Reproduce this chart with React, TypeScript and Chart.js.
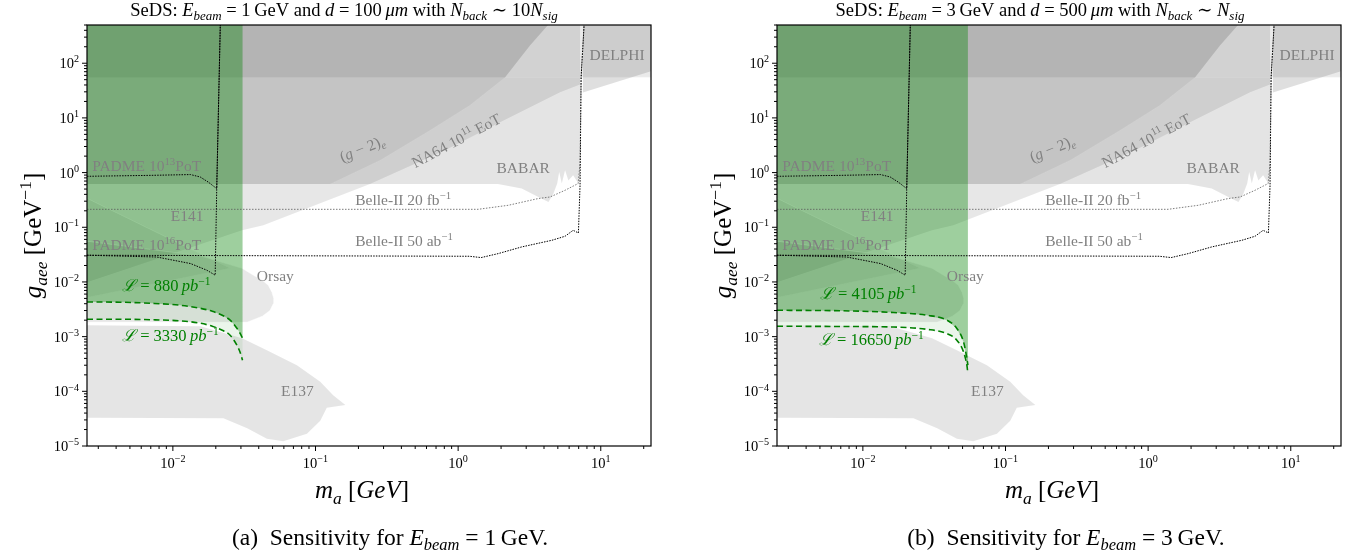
import React, { useEffect, useRef } from 'react';
import { Chart, registerables } from 'chart.js';

Chart.register(...registerables);

// ---------- axis limits & ticks ----------
const X_MIN = 0.0025;
const X_MAX = 22.5;
const Y_MIN = 1e-5;
const Y_MAX = 500;
const xTickExps = [-2, -1, 0, 1];
const yTickExps = [-5, -4, -3, -2, -1, 0, 1, 2];

// ---------- existing limits (outlines, data units) ----------
const delphiBandX = [0.002, 30, 30, 0.002];
const delphiBandY = [55, 55, 1000, 1000];
const delphiX = [7.5, 7.5, 30, 30];
const delphiY = [1000, 29, 90, 1000];
const g2eX = [0.002, 0.127, 0.284, 0.637, 1.21, 2.13, 3.19, 4.27, 4.5, 0.002];
const g2eY = [0.62, 0.62, 1.68, 5.94, 17, 55, 212, 500, 1000, 1000];
const babarX = [0.002, 1.9, 2.79, 3.65, 4.3, 4.65, 4.95, 5.11, 5.33, 5.62, 5.93, 6.4, 6.97, 7.16, 7.16, 0.002];
const babarY = [0.62, 0.62, 0.51, 0.358, 0.29, 0.41, 0.63, 1.03, 0.63, 1.1, 0.72, 0.89, 0.63, 0.7, 1000, 1000];
const na64X = [0.002, 0.0306, 0.0431, 0.241, 0.811, 1.97, 5.19, 7.16, 7.16, 2.13, 1.21, 0.637, 0.284, 0.127, 0.002];
const na64Y = [0.0081, 0.0881, 0.109, 0.62, 2.56, 8.3, 29.4, 41, 55, 55, 17, 5.94, 1.68, 0.62, 0.62];
const e141X = [0.002, 0.0252, 0.002];
const e141Y = [0.45, 0.0178, 0.0046];
const orsayX = [0.002, 0.0332, 0.0424, 0.048, 0.0506, 0.051, 0.0495, 0.0467, 0.042, 0.0378, 0.0306, 0.0156, 0.002];
const orsayY = [0.00183, 0.00183, 0.00236, 0.003, 0.004, 0.005, 0.0065, 0.0087, 0.011, 0.0127, 0.0178, 0.03, 0.06];
const e137X = [0.002, 0.0156, 0.0306, 0.0456, 0.0741, 0.108, 0.133, 0.162, 0.12, 0.108, 0.0871, 0.0594, 0.0456, 0.0332, 0.0226, 0.002];
const e137Y = [0.00162, 0.00155, 0.000935, 0.000564, 0.0003, 0.000149, 8.5e-5, 5.6e-5, 4.98e-5, 2.9e-5, 1.67e-5, 1.22e-5, 1.36e-5, 2.11e-5, 3.22e-5, 3.3e-5];

// ---------- projection lines ----------
const padme13X = [0.0025, 0.007, 0.0133, 0.01556, 0.0177, 0.0203, 0.0215];
const padme13Y = [0.855, 0.89, 0.92, 0.83, 0.67, 0.51, 500];
const padme16X = [0.0025, 0.0077, 0.0133, 0.0173, 0.0198, 0.0203, 0.0215];
const padme16Y = [0.0308, 0.0286, 0.0217, 0.0164, 0.0133, 0.51, 500];
const belle20X = [0.0025, 1.38, 2.24, 3.64, 4.41, 5.62, 6.94, 7.16, 7.28, 7.64];
const belle20Y = [0.213, 0.213, 0.252, 0.335, 0.358, 0.475, 0.63, 1.5, 55, 500];
const belle50X = [0.0025, 1.2, 1.45, 1.91, 2.79, 4.54, 5.62, 6.4, 6.97, 7.16, 7.28, 7.64];
const belle50Y = [0.0308, 0.0295, 0.0279, 0.033, 0.0437, 0.0578, 0.0685, 0.088, 0.0787, 0.6, 55, 500];

// ---------- SeDS sensitivity ----------
const sensAX = [0.0025, 0.00428, 0.00695, 0.01127, 0.01556, 0.01888, 0.0222, 0.0252, 0.0281, 0.0296, 0.0308];
const sensA880Y = [4.31e-3, 4.26e-3, 4.08e-3, 3.75e-3, 3.3e-3, 2.91e-3, 2.46e-3, 2.0e-3, 1.42e-3, 1.15e-3, 9.35e-4];
const sensA3330Y = [2.08e-3, 2.08e-3, 2.04e-3, 1.94e-3, 1.76e-3, 1.55e-3, 1.31e-3, 1.06e-3, 6.97e-4, 5.19e-4, 3.7e-4];
const sensBX = [0.0025, 0.0081, 0.0164, 0.0281, 0.0388, 0.0456, 0.0508, 0.0536, 0.0545];
const sensB4105Y = [3.04e-3, 2.95e-3, 2.76e-3, 2.46e-3, 2.0e-3, 1.41e-3, 8.0e-4, 4.0e-4, 3.0e-4];
const sensB16650Y = [1.55e-3, 1.53e-3, 1.5e-3, 1.36e-3, 1.14e-3, 8.6e-4, 5.25e-4, 3.0e-4, 2.1e-4];

const FONT = "'Liberation Serif', 'DejaVu Serif', serif";
const GREY_TEXT = 'rgb(128,128,128)';
const GREEN = 'rgb(0,128,0)';

type Seg = { t: string; it?: boolean; v?: 'sub' | 'sup' };

function drawRich(ctx: CanvasRenderingContext2D, segs: Seg[], x: number, y: number, size: number, color: string, align: string) {
  const items = segs.map((s) => {
    const fs = s.v ? size * 0.7 : size;
    const font = `${s.it ? 'italic ' : ''}${fs}px ${FONT}`;
    ctx.font = font;
    return { s, font, w: ctx.measureText(s.t).width };
  });
  const total = items.reduce((a, b) => a + b.w, 0);
  let cx = align === 'left' ? x : align === 'right' ? x - total : x - total / 2;
  ctx.fillStyle = color;
  ctx.textAlign = 'left';
  ctx.textBaseline = 'alphabetic';
  for (const it of items) {
    ctx.font = it.font;
    const dy = it.s.v === 'sub' ? size * 0.22 : it.s.v === 'sup' ? -size * 0.4 : 0;
    ctx.fillText(it.s.t, cx, y + dy);
    cx += it.w;
  }
}

const pts = (xs: number[], ys: number[]) => xs.map((x, i) => ({ x, y: ys[i] }));

function region(xs: number[], ys: number[], color: string, edge?: string) {
  return {
    data: pts(xs, ys),
    fill: 'shape',
    backgroundColor: color,
    borderColor: edge || 'rgba(0,0,0,0)',
    borderWidth: 1,
    borderDash: edge ? [] : [2, 2],
    pointRadius: 0,
  };
}

function curve(xs: number[], ys: number[], color: string, width: number, dash: number[], smooth = false) {
  return {
    data: pts(xs, ys),
    fill: false,
    borderColor: color,
    backgroundColor: color,
    borderWidth: width,
    borderDash: dash,
    pointRadius: 0,
    cubicInterpolationMode: smooth ? 'monotone' : 'default',
  };
}

type Ann = { segs: Seg[]; x: number; y: number; size: number; color: string; align?: string; rot?: number };

const ANN = 15.5;
const commonAnns: Ann[] = [
  { segs: [{ t: 'PADME 10' }, { t: '13', v: 'sup' }, { t: 'PoT' }], x: 0.00272, y: 1.06, size: ANN, color: GREY_TEXT, align: 'left' },
  { segs: [{ t: 'PADME 10' }, { t: '16', v: 'sup' }, { t: 'PoT' }], x: 0.00272, y: 0.038, size: ANN, color: GREY_TEXT, align: 'left' },
  { segs: [{ t: 'E141' }], x: 0.0126, y: 0.129, size: ANN, color: GREY_TEXT, align: 'center' },
  { segs: [{ t: 'Orsay' }], x: 0.0523, y: 0.0103, size: ANN, color: GREY_TEXT, align: 'center' },
  { segs: [{ t: 'E137' }], x: 0.0745, y: 8.1e-5, size: ANN, color: GREY_TEXT, align: 'center' },
  { segs: [{ t: '(' }, { t: 'g', it: true }, { t: ' − 2)' }, { t: 'e', it: true, v: 'sub' }], x: 0.212, y: 2.78, size: ANN, color: GREY_TEXT, rot: -22 },
  { segs: [{ t: 'NA64 10' }, { t: '11', v: 'sup' }, { t: ' EoT' }], x: 0.968, y: 3.89, size: ANN, color: GREY_TEXT, rot: -28 },
  { segs: [{ t: 'BABAR' }], x: 2.86, y: 0.97, size: ANN, color: GREY_TEXT, align: 'center' },
  { segs: [{ t: 'DELPHI' }], x: 13.0, y: 113, size: ANN, color: GREY_TEXT, align: 'center' },
  { segs: [{ t: 'Belle-II 20 fb' }, { t: '−1', v: 'sup' }], x: 0.19, y: 0.252, size: ANN, color: GREY_TEXT, align: 'left' },
  { segs: [{ t: 'Belle-II 50 ab' }, { t: '−1', v: 'sup' }], x: 0.19, y: 0.045, size: ANN, color: GREY_TEXT, align: 'left' },
];

const lumLabel = (v: string): Seg[] => [{ t: 'ℒ', it: true }, { t: ` = ${v}\u2009` }, { t: 'pb', it: true }, { t: '−1', v: 'sup' }];

type PanelSpec = {
  title: Seg[];
  caption: Seg[];
  sensX: number[];
  highY: number[];
  lowY: number[];
  anns: Ann[];
  width: number;
  left: number;
  titleX: number;
  captionX: number;
};

const panels: PanelSpec[] = [
  {
    title: [
      { t: 'SeDS: ' }, { t: 'E', it: true }, { t: 'beam', it: true, v: 'sub' }, { t: ' = 1\u2009GeV and ' },
      { t: 'd', it: true }, { t: ' = 100\u2009' }, { t: 'μm', it: true }, { t: ' with ' },
      { t: 'N', it: true }, { t: 'back', it: true, v: 'sub' }, { t: ' ∼ 10' }, { t: 'N', it: true }, { t: 'sig', it: true, v: 'sub' },
    ],
    caption: [{ t: '(a)  Sensitivity for ' }, { t: 'E', it: true }, { t: 'beam', it: true, v: 'sub' }, { t: ' = 1\u2009GeV.' }],
    sensX: sensAX,
    highY: sensA880Y,
    lowY: sensA3330Y,
    anns: [
      { segs: lumLabel('880'), x: 0.009, y: 0.00676, size: 16.5, color: GREEN, align: 'center' },
      { segs: lumLabel('3330'), x: 0.0096, y: 8.24e-4, size: 16.5, color: GREEN, align: 'center' },
    ],
    width: 680,
    left: 0,
    titleX: 344,
    captionX: 390,
  },
  {
    title: [
      { t: 'SeDS: ' }, { t: 'E', it: true }, { t: 'beam', it: true, v: 'sub' }, { t: ' = 3\u2009GeV and ' },
      { t: 'd', it: true }, { t: ' = 500\u2009' }, { t: 'μm', it: true }, { t: ' with ' },
      { t: 'N', it: true }, { t: 'back', it: true, v: 'sub' }, { t: ' ∼ ' }, { t: 'N', it: true }, { t: 'sig', it: true, v: 'sub' },
    ],
    caption: [{ t: '(b)  Sensitivity for ' }, { t: 'E', it: true }, { t: 'beam', it: true, v: 'sub' }, { t: ' = 3\u2009GeV.' }],
    sensX: sensBX,
    highY: sensB4105Y,
    lowY: sensB16650Y,
    anns: [
      { segs: lumLabel('4105'), x: 0.0109, y: 0.00483, size: 16.5, color: GREEN, align: 'center' },
      { segs: lumLabel('16650'), x: 0.01146, y: 6.97e-4, size: 16.5, color: GREEN, align: 'center' },
    ],
    width: 667,
    left: 690,
    titleX: 350,
    captionX: 376,
  },
];

function decorPlugin(p: PanelSpec) {
  return {
    id: 'decor',
    afterDraw(chart: any) {
      const { ctx, chartArea: a, scales } = chart;
      const xs = scales.x;
      const ys = scales.y;
      ctx.save();
      // annotations
      for (const an of [...commonAnns, ...p.anns]) {
        const px = xs.getPixelForValue(an.x);
        const py = ys.getPixelForValue(an.y);
        if (an.rot) {
          ctx.save();
          ctx.translate(px, py);
          ctx.rotate((an.rot * Math.PI) / 180);
          drawRich(ctx, an.segs, 0, an.size * 0.35, an.size, an.color, 'center');
          ctx.restore();
        } else {
          drawRich(ctx, an.segs, px, py, an.size, an.color, an.align || 'center');
        }
      }
      // frame
      ctx.strokeStyle = '#000';
      ctx.lineWidth = 1.2;
      ctx.strokeRect(a.left, a.top, a.right - a.left, a.bottom - a.top);
      // ticks
      ctx.lineWidth = 1;
      ctx.beginPath();
      for (let e = -3; e <= 1; e++) {
        for (let m = 1; m <= 9; m++) {
          const v = m * Math.pow(10, e);
          if (v < X_MIN || v > X_MAX) continue;
          const px = xs.getPixelForValue(v);
          const len = m === 1 ? 5 : 3;
          ctx.moveTo(px, a.bottom);
          ctx.lineTo(px, a.bottom + len);
        }
      }
      for (let e = -5; e <= 2; e++) {
        for (let m = 1; m <= 9; m++) {
          const v = m * Math.pow(10, e);
          if (v < Y_MIN || v > Y_MAX) continue;
          const py = ys.getPixelForValue(v);
          const len = m === 1 ? 5 : 3;
          ctx.moveTo(a.left, py);
          ctx.lineTo(a.left - len, py);
        }
      }
      ctx.stroke();
      // tick labels
      for (const e of xTickExps) {
        const px = xs.getPixelForValue(Math.pow(10, e));
        drawRich(ctx, [{ t: '10' }, { t: e < 0 ? `−${-e}` : `${e}`, v: 'sup' }], px, a.bottom + 22, 14.5, '#000', 'center');
      }
      for (const e of yTickExps) {
        const py = ys.getPixelForValue(Math.pow(10, e));
        drawRich(ctx, [{ t: '10' }, { t: e < 0 ? `−${-e}` : `${e}`, v: 'sup' }], a.left - 8, py + 5, 14.5, '#000', 'right');
      }
      // title
      drawRich(ctx, p.title, p.titleX, 16, 18.5, '#000', 'center');
      // x label
      drawRich(ctx, [{ t: 'm', it: true }, { t: 'a', it: true, v: 'sub' }, { t: ' [' }, { t: 'GeV', it: true }, { t: ']' }], 362, a.bottom + 52, 25, '#000', 'center');
      // y label
      ctx.save();
      ctx.translate(41, (a.top + a.bottom) / 2);
      ctx.rotate(-Math.PI / 2);
      drawRich(ctx, [{ t: 'g', it: true }, { t: 'aee', it: true, v: 'sub' }, { t: ' [GeV' }, { t: '−1', v: 'sup' }, { t: ']' }], 0, 0, 25, '#000', 'center');
      ctx.restore();
      // caption
      drawRich(ctx, p.caption, p.captionX, 545, 23.5, '#000', 'center');
      ctx.restore();
    },
  };
}

function buildConfig(p: PanelSpec): any {
  const n = p.sensX.length;
  const greenTopX = [0.002, ...p.sensX, p.sensX[n - 1], 0.002];
  const greenTopY = [p.highY[0], ...p.highY, 1000, 1000];
  const greenBandX = [...p.sensX, ...[...p.sensX].reverse()];
  const greenBandY = [...p.highY, ...[...p.lowY].reverse()];
  const datasets: any[] = [
    region(delphiBandX, delphiBandY, 'rgba(0,0,0,0.082)', 'rgba(255,255,255,0.35)'),
    region(delphiX, delphiY, 'rgba(0,0,0,0.124)'),
    region(g2eX, g2eY, 'rgba(0,0,0,0.14)'),
    region(babarX, babarY, 'rgba(0,0,0,0.106)'),
    region(na64X, na64Y, 'rgba(0,0,0,0.095)'),
    region(e141X, e141Y, 'rgba(0,0,0,0.06)', 'rgba(255,255,255,0.55)'),
    region(orsayX, orsayY, 'rgba(0,0,0,0.09)', 'rgba(255,255,255,0.55)'),
    region(e137X, e137Y, 'rgba(0,0,0,0.1)'),
    region(greenTopX, greenTopY, 'rgba(0,128,0,0.38)'),
    region(greenBandX, greenBandY, 'rgba(0,128,0,0.08)'),
    curve(belle20X, belle20Y, 'rgb(90,90,90)', 0.8, [1.5, 1.5]),
    curve(belle50X, belle50Y, '#000', 1, [1.5, 1.2]),
    curve(padme13X, padme13Y, '#000', 1, [1.5, 1.2]),
    curve(padme16X, padme16Y, '#000', 1, [1.5, 1.2]),
    curve(p.sensX, p.highY, GREEN, 1.6, [6, 3.5], true),
    curve(p.sensX, p.lowY, GREEN, 1.6, [6, 3.5], true),
  ];
  datasets.forEach((d, i) => (d.order = datasets.length - i));
  return {
    type: 'line',
    data: { datasets },
    options: {
      responsive: false,
      animation: false,
      devicePixelRatio: 1,
      events: [],
      layout: { padding: { left: 87, top: 25, right: p.width - 651, bottom: 110 } },
      plugins: { legend: { display: false }, tooltip: { enabled: false }, title: { display: false } },
      elements: { point: { radius: 0 } },
      scales: {
        x: { type: 'logarithmic', min: X_MIN, max: X_MAX, display: false },
        y: { type: 'logarithmic', min: Y_MIN, max: Y_MAX, display: false },
      },
    },
    plugins: [decorPlugin(p)],
  };
}

function Panel({ spec }: { spec: PanelSpec }) {
  const ref = useRef<HTMLCanvasElement>(null);
  useEffect(() => {
    const chart = new Chart(ref.current as HTMLCanvasElement, buildConfig(spec));
    return () => chart.destroy();
  }, [spec]);
  return (
    <canvas
      ref={ref}
      width={spec.width}
      height={556}
      style={{ position: 'absolute', left: spec.left, top: 0, width: spec.width, height: 556 }}
    />
  );
}

export default function App() {
  return (
    <div style={{ position: 'absolute', left: 0, top: 0, width: 1357, height: 556, background: '#fff' }}>
      {panels.map((p, i) => (
        <Panel key={i} spec={p} />
      ))}
    </div>
  );
}
